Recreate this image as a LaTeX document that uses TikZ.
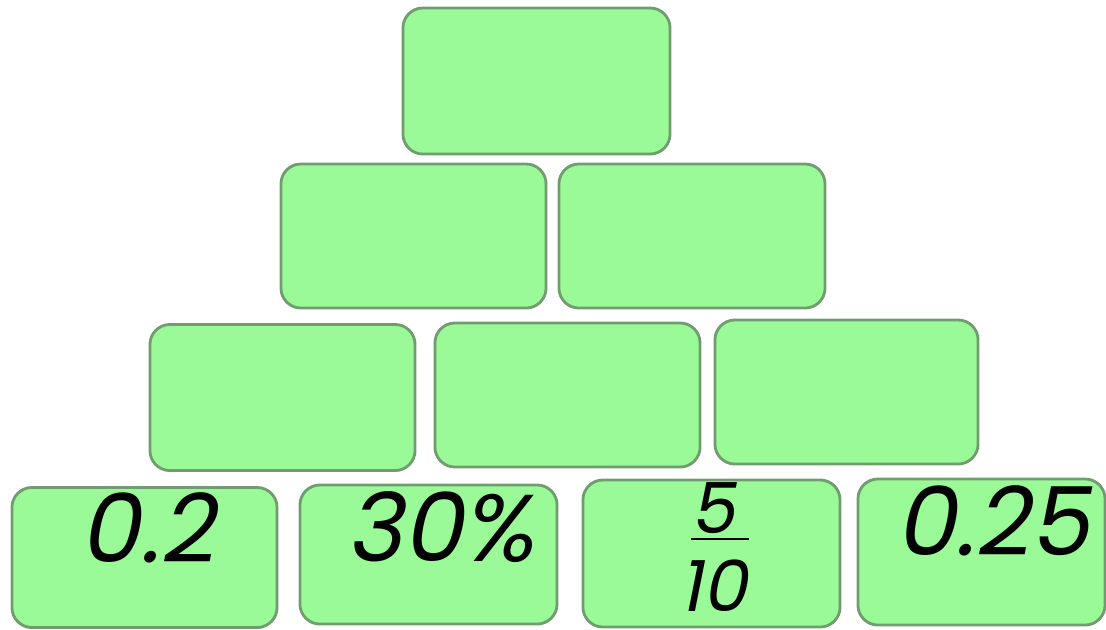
\documentclass[tikz,border=0pt]{standalone}
\usepackage{xcolor}
\usepackage{fontspec}
\usepackage{tikz}
\usetikzlibrary{positioning}
\newfontfamily\numfont{Poppins}[FakeSlant=0.2]
\definecolor{brickfill}{RGB}{154,250,152}
\definecolor{brickedge}{RGB}{112,156,112}

\begin{document}
\begin{tikzpicture}[x=0.01cm, y=-0.01cm,
  brick/.style={draw=brickedge, fill=brickfill, line width=0.8pt,
    rounded corners=0.2cm, inner sep=0pt,
    minimum width=2.65cm, minimum height=1.45cm},
  val/.style={font=\numfont\fontsize{27}{30}\selectfont, inner sep=0pt},
  fracval/.style={font=\numfont\fontsize{20}{22}\selectfont, inner sep=0pt}]
  \useasboundingbox (0,0) rectangle (1106,629);
  % top of the pyramid
  \node[brick, minimum width=2.67cm, minimum height=1.46cm] (top) at (536.5,81) {};
  % second row
  \node[brick, minimum height=1.44cm] (rowBl) at (413.5,236) {};
  \node[brick, minimum width=2.66cm, minimum height=1.44cm] (rowBr) at (692,236) {};
  % third row
  \node[brick, minimum height=1.46cm] (rowCl) at (282.5,397.5) {};
  \node[brick, minimum height=1.44cm] (rowCm) at (567.5,395) {};
  \node[brick, minimum width=2.63cm, minimum height=1.44cm] (rowCr) at (846.5,392) {};
  % bottom row
  \node[brick, minimum height=1.40cm] (baseA) at (144.5,557.5) {};
  \node[brick, minimum width=2.57cm, minimum height=1.39cm] (baseB) at (428.5,554.5) {};
  \node[brick, minimum width=2.57cm, minimum height=1.47cm] (baseC) at (711.5,553.5) {};
  \node[brick, minimum width=2.47cm, minimum height=1.46cm] (baseD) at (981.5,552) {};
  % given values
  \node[val] (valA) at (147,528) {0.2};
  \node[val] (valB) at (440,527) {30\%};
  \node[fracval] (valCn) at (720,512) {\underline{5\hspace{0.2em}}};
  \node[fracval] (valCd) at (713,586) {10};
  \node[val] (valD) at (992,521) {0.25};
\end{tikzpicture}
\end{document}
